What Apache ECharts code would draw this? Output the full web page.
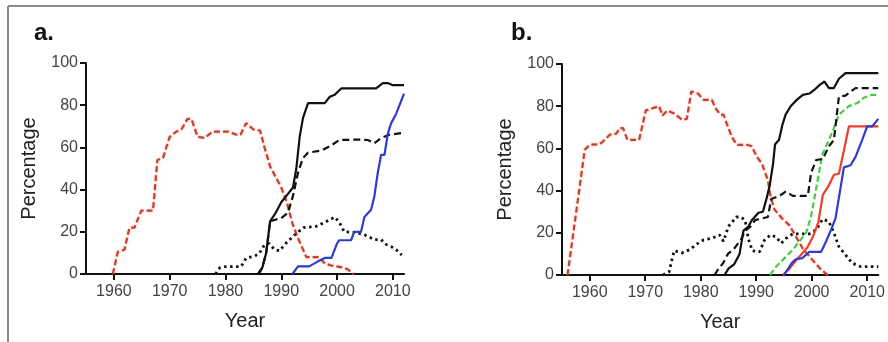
<!DOCTYPE html>
<html>
<head>
<meta charset="utf-8">
<script src="https://cdn.jsdelivr.net/npm/echarts@6/dist/echarts.min.js"></script>
<style>
html,body{margin:0;padding:0;background:#fff;}
#chart{width:888px;height:342px;}
</style>
</head>
<body>
<div id="chart"></div>
<script>
// ---- data (year, percentage) ----
const yearTicks = [1960, 1970, 1980, 1990, 2000, 2010];
const panelTitles = ['a.', 'b.'];

const aRedDashed = [[1959.8,0],[1960.7,10.5],[1961.9,11.5],[1962.8,22],[1963.7,22],[1964.9,30],[1967,30],[1967.8,54],[1968.8,55],[1970,65],[1971.2,67.5],[1972.1,68.5],[1973.2,73.5],[1973.9,73.5],[1975,65],[1976.3,64.5],[1977.7,67.5],[1980.5,67.5],[1982,66],[1982.7,66],[1983.7,71.5],[1985,68.5],[1986.2,68],[1987,60],[1988,51],[1989,46],[1990,41],[1991,34],[1992,24],[1993,17],[1994.5,8],[1996.8,8],[1997.8,5],[1999,4],[2001.2,3],[2002,2],[2003,0]];
const aBlackSolid = [[1985.8,0],[1986.6,3],[1987.3,10],[1988,25],[1989,29],[1990,34],[1991.2,38],[1992.1,41],[1992.7,50],[1993.3,65],[1993.9,74],[1994.8,81],[1997.8,81],[1998.7,84],[1999.6,85],[2000.8,88],[2007,88],[2008.2,90.5],[2009.1,90.5],[2010,89.5],[2012,89.5]];
const aBlackDashed = [[1986,0],[1986.6,3],[1987.3,10],[1988,25],[1990,26.5],[1991.2,29],[1992.1,37],[1993,48],[1993.9,55],[1994.8,57.5],[1997.2,58.5],[1999,61],[2000.4,63.5],[2004,63.7],[2005.5,63.5],[2006.7,62],[2007.9,64.5],[2009.4,66],[2012,67]];
const aBlackDotted = [[1978.2,0],[1979,3],[1980,3.5],[1982.8,3.5],[1983.7,7.5],[1985.2,8.5],[1986,9.5],[1986.8,13],[1987.8,14.5],[1988.8,11.5],[1989.7,11],[1990.8,14.5],[1992.4,18.5],[1994,22],[1996.3,22.6],[1997.8,24.5],[1999.6,27],[2000.4,24.5],[2001.3,20],[2003.4,19.7],[2004.9,18.6],[2006.7,16.3],[2007.9,16.3],[2008.8,14],[2009.7,13],[2010.6,11.5],[2011.6,9]];
const aBlue = [[1992,0],[1993,3.6],[1995,3.6],[1996.6,6],[1997.8,7.6],[1999,7.6],[2000,14.5],[2000.4,16],[2002.5,16],[2003.1,20],[2004.3,20],[2004.9,27],[2006.1,30.5],[2006.7,37],[2007.3,48],[2007.9,56.5],[2008.5,56.5],[2009.1,66.5],[2009.7,71.5],[2010.6,76],[2011.2,80],[2012,85.5]];

const bRedDashed = [[1956,0],[1959.1,59.3],[1960,61.7],[1961.8,62],[1962.7,64],[1963.6,66.5],[1964.8,67],[1965.4,69.6],[1966,69.6],[1966.8,64],[1968.9,64],[1970.1,78],[1971.3,79],[1972.5,80],[1973.1,75.6],[1974,78],[1975.2,76.5],[1976.7,73.5],[1977.5,74],[1978.3,87],[1979.5,86],[1980.5,83],[1982,83],[1982.7,79],[1983.5,76],[1984.1,76],[1984.8,71],[1985.6,65.5],[1986.5,61.7],[1988.3,61.7],[1989.2,61],[1990.1,56],[1991,53],[1992.1,45],[1992.6,37],[1993.3,31],[1994.6,27],[1996,23.5],[1997.2,18],[1998.4,12.5],[2000.2,7],[2001.7,2.5],[2002.9,0]];
const bBlackSolid = [[1984.3,0],[1985,3],[1986,5],[1987,10],[1987.7,21],[1988.6,23],[1989.2,26],[1990.4,29.5],[1991.2,30],[1991.8,35.6],[1992.4,42],[1993,52],[1993.4,62],[1994.1,64],[1994.7,71],[1995.3,76],[1996.2,80],[1997.3,83],[1998.4,85.4],[1999.6,86],[2000.5,87.8],[2001.4,90],[2002.3,91.7],[2003.1,88.6],[2004,88.6],[2004.9,93],[2006.1,95.7],[2012,95.7]];
const bBlackDashed = [[1982.5,0],[1983.2,3],[1984,5.5],[1984.9,10],[1986.1,12.7],[1987.3,17],[1988,21],[1989,23],[1989.8,26],[1992.1,27.5],[1992.7,36],[1994.2,37.5],[1995.3,39.5],[1996.6,37.5],[1999.3,37.5],[1999.9,48.5],[2000.8,54.5],[2002,55],[2003.1,61],[2004,64],[2004.9,84.5],[2006.1,85],[2007,87],[2007.9,88.6],[2012,88.6]];
const bBlackDotted = [[1973.2,0],[1974.3,1.5],[1975.2,11.5],[1976.7,10.5],[1978,12],[1979.2,14.5],[1980.5,16.6],[1982,17.4],[1983.4,19],[1984.1,16],[1985,23],[1986.4,27.5],[1987.2,27.5],[1988,26],[1988.6,17],[1989.3,11.5],[1990.6,11],[1991.5,16.6],[1992.6,19],[1993.6,18],[1994.5,15],[1995.4,17.4],[1996.6,19.5],[1999.6,19.5],[2000.8,21.4],[2002,26.5],[2003.1,25.3],[2004,20],[2004.9,13.4],[2006.1,9.5],[2007.3,5.6],[2008.8,4],[2012,4]];
const bGreenDashed = [[1992.5,0],[1993.6,4],[1995.1,8],[1996.6,12],[1997.5,15],[1999,20],[1999.9,28],[2000.6,38],[2001,44],[2001.9,57],[2003.1,64],[2004,69.6],[2004.9,76],[2006.7,80],[2008.2,81.5],[2009.4,84],[2010.9,85.4],[2012,85.4]];
const bRedSolid = [[1994.8,0],[1996,3],[1997.2,7],[1998.2,10],[1999.2,13],[2000.2,18],[2001.2,25],[2002,38],[2003.1,42.5],[2004,47.5],[2004.9,48],[2005.8,59],[2006.7,70.4],[2012,70.4]];
const bBlue = [[1995,0],[1996.5,6],[1997.2,7.5],[1998.3,8],[1999.6,11],[2001.7,11],[2002.6,16],[2003.5,21.5],[2004.3,27],[2005.8,51],[2007,52],[2007.9,56],[2009.1,64],[2010,70.4],[2010.9,70.4],[2012,74]];

// ---- styles ----
const FONT = 'Liberation Sans, Arial, sans-serif';
const styles = {
  redDashed: {color:'#c8402e', width:2.2, type:[6,3], shadowColor:'rgba(235,130,120,0.55)', shadowBlur:3},
  blackSolid: {color:'#111', width:2.2, type:'solid'},
  blackDashed: {color:'#111', width:2.2, type:[7,4]},
  blackDotted: {color:'#111', width:2.8, type:[2.5,3.5]},
  greenDashed: {color:'#3fcf3f', width:2.2, type:[6,3]},
  redSolid: {color:'#e8412c', width:2.2, type:'solid'},
  blue: {color:'#2c3ecb', width:2.2, type:'solid'}
};

function line(idx, data, st, z) {
  return {type:'line', xAxisIndex:idx, yAxisIndex:idx, data:data, showSymbol:false, symbol:'none',
    lineStyle:st, z:z||2, animation:false, silent:true};
}

function xAx(idx) {
  return {gridIndex:idx, type:'value', min:1955, max:2012,
    name:'Year', nameLocation:'middle', nameGap:37,
    nameTextStyle:{fontFamily:FONT, fontSize:20, color:'#222'},
    axisLine:{show:true, onZero:false, lineStyle:{color:'#111', width:2}},
    axisTick:{show:true, length:6, lineStyle:{color:'#111', width:2}, customValues:yearTicks},
    axisLabel:{fontFamily:FONT, fontSize:16, color:'#444', margin:10, customValues:yearTicks,
      formatter:function(v){return String(Math.round(v));}},
    splitLine:{show:false}};
}
function yAx(idx) {
  return {gridIndex:idx, type:'value', min:0, max:100, interval:20,
    name:'Percentage', nameLocation:'middle', nameGap:47, nameRotate:90,
    nameTextStyle:{fontFamily:FONT, fontSize:20, color:'#222'},
    axisLine:{show:true, lineStyle:{color:'#111', width:2}},
    axisTick:{show:true, length:6, lineStyle:{color:'#111', width:2}},
    axisLabel:{fontFamily:FONT, fontSize:16, color:'#444', margin:8},
    splitLine:{show:false}};
}

const chart = echarts.init(document.getElementById('chart'), null, {renderer:'canvas'});
chart.setOption({
  backgroundColor:'#fff',
  animation:false,
  title:[
    {text:panelTitles[0], left:29, top:16, textStyle:{fontFamily:FONT, fontSize:24, fontWeight:'bold', color:'#111'}},
    {text:panelTitles[1], left:506, top:16, textStyle:{fontFamily:FONT, fontSize:24, fontWeight:'bold', color:'#111'}}
  ],
  grid:[
    {left:86, top:63, width:318, height:211},
    {left:562, top:64, width:321, height:211}
  ],
  xAxis:[xAx(0), xAx(1)],
  yAxis:[yAx(0), yAx(1)],
  graphic:[
    {type:'line', shape:{x1:8, y1:6, x2:888, y2:6}, style:{stroke:'#8a8a8a', lineWidth:2}},
    {type:'line', shape:{x1:8, y1:6, x2:8, y2:342}, style:{stroke:'#8a8a8a', lineWidth:2}}
  ],
  series:[
    line(0, aRedDashed, styles.redDashed, 1),
    line(0, aBlackDotted, styles.blackDotted),
    line(0, aBlackDashed, styles.blackDashed),
    line(0, aBlue, styles.blue),
    line(0, aBlackSolid, styles.blackSolid, 3),
    line(1, bRedDashed, styles.redDashed, 1),
    line(1, bBlackDotted, styles.blackDotted),
    line(1, bGreenDashed, styles.greenDashed),
    line(1, bRedSolid, styles.redSolid),
    line(1, bBlue, styles.blue),
    line(1, bBlackDashed, styles.blackDashed),
    line(1, bBlackSolid, styles.blackSolid, 3)
  ]
});
</script>
</body>
</html>
